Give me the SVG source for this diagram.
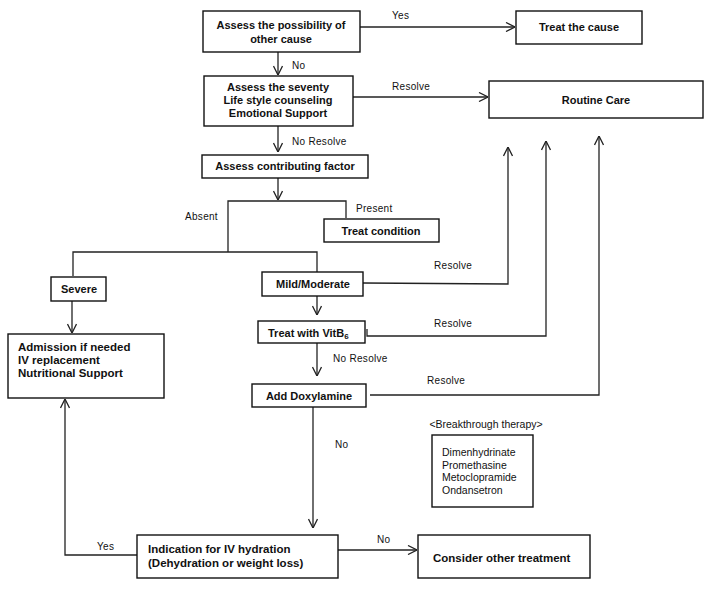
<svg xmlns="http://www.w3.org/2000/svg" width="714" height="589" viewBox="0 0 714 589">
<style>
.box{fill:#fff;stroke:#111;stroke-width:1.4}
.c{fill:none;stroke:#222;stroke-width:1.3}
.t{font-family:"Liberation Sans",Arial,sans-serif;font-size:11px;font-weight:bold;fill:#111}
.tm{font-family:"Liberation Sans",Arial,sans-serif;font-size:11.5px;font-weight:bold;fill:#111}
.l{font-family:"Liberation Sans",Arial,sans-serif;font-size:10px;fill:#111;letter-spacing:0.3px}
.d{font-family:"Liberation Sans",Arial,sans-serif;font-size:10.5px;fill:#111}
.m{text-anchor:middle}
</style>
<defs>
<marker id="arr" viewBox="0 0 10 10" refX="10" refY="5" markerWidth="10" markerHeight="10" markerUnits="userSpaceOnUse" orient="auto">
<polyline points="1,0.5 10,5 1,9.5" fill="none" stroke="#222" stroke-width="1.3"/>
</marker>
</defs>
<rect width="714" height="589" fill="#fff"/>
<g id="connectors">
<line class="c" x1="360" y1="27" x2="515" y2="27" marker-end="url(#arr)"/>
<line class="c" x1="278" y1="52" x2="278" y2="75" marker-end="url(#arr)"/>
<line class="c" x1="353" y1="97" x2="488" y2="97" marker-end="url(#arr)"/>
<line class="c" x1="278" y1="126" x2="278" y2="152" marker-end="url(#arr)"/>
<line class="c" x1="278" y1="178" x2="278" y2="200" marker-end="url(#arr)"/>
<polyline class="c" points="228,252 228,201 346,201 346,218"/>
<polyline class="c" points="73,276 73,252 317,252 317,272"/>
<line class="c" x1="72" y1="301" x2="72" y2="333" marker-end="url(#arr)"/>
<polyline class="c" points="363,283 508,284 508,147" marker-end="url(#arr)"/>
<line class="c" x1="317" y1="296" x2="317" y2="315" marker-end="url(#arr)"/>
<polyline class="c" points="367,329 367,336 546,336 546,141" marker-end="url(#arr)"/>
<line class="c" x1="317" y1="343" x2="317" y2="376" marker-end="url(#arr)"/>
<polyline class="c" points="370,395 599,395 599,136" marker-end="url(#arr)"/>
<line class="c" x1="313" y1="407" x2="313" y2="528" marker-end="url(#arr)"/>
<polyline class="c" points="137,555 65,555 65,399" marker-end="url(#arr)"/>
<line class="c" x1="338" y1="550" x2="417" y2="550" marker-end="url(#arr)"/>
<text class="l" x="392" y="19">Yes</text>
<text class="l" x="292" y="69">No</text>
<text class="l" x="392" y="90">Resolve</text>
<text class="l" x="292" y="145">No Resolve</text>
<text class="l" x="185" y="220">Absent</text>
<text class="l" x="356" y="212">Present</text>
<text class="l" x="434" y="269">Resolve</text>
<text class="l" x="434" y="327">Resolve</text>
<text class="l" x="333" y="362">No Resolve</text>
<text class="l" x="427" y="384">Resolve</text>
<text class="l" x="335" y="448">No</text>
<text class="l" x="97" y="550">Yes</text>
<text class="l" x="377" y="543">No</text>
</g>
<g id="n-other-cause">
<rect class="box" x="203" y="11" width="157" height="41"/>
<text class="t m" x="281" y="29">Assess the possibility of</text>
<text class="t m" x="281" y="43">other cause</text>
</g>
<g id="n-treat-cause">
<rect class="box" x="516" y="11" width="126" height="33"/>
<text class="t m" x="579" y="31">Treat the cause</text>
</g>
<g id="n-severity">
<rect class="box" x="204" y="76" width="149" height="50"/>
<text class="t m" x="278" y="91">Assess the seventy</text>
<text class="t m" x="278" y="104">Life style counseling</text>
<text class="t m" x="278" y="117">Emotional Support</text>
</g>
<g id="n-routine">
<rect class="box" x="489" y="81" width="214" height="37"/>
<text class="t m" x="596" y="104">Routine Care</text>
</g>
<g id="n-contributing">
<rect class="box" x="202" y="155" width="166" height="23"/>
<text class="t m" x="285" y="170">Assess contributing factor</text>
</g>
<g id="n-treat-condition">
<rect class="box" x="324" y="219" width="115" height="23"/>
<text class="t m" x="381" y="235">Treat condition</text>
</g>
<g id="n-severe">
<rect class="box" x="51" y="277" width="55" height="24"/>
<text class="t m" x="79" y="293">Severe</text>
</g>
<g id="n-mild">
<rect class="box" x="262" y="272" width="101" height="24"/>
<text class="t m" x="313" y="288">Mild/Moderate</text>
</g>
<g id="n-vitb6">
<rect class="box" x="258" y="321" width="107" height="22"/>
<text class="t" x="268" y="337">Treat with VitB<tspan font-size="8" dy="2">6</tspan></text>
</g>
<g id="n-doxylamine">
<rect class="box" x="252" y="384" width="114" height="23"/>
<text class="t m" x="309" y="400">Add Doxylamine</text>
</g>
<g id="n-admission">
<rect class="box" x="8" y="334" width="156" height="64"/>
<text class="tm" x="18" y="351">Admission if needed</text>
<text class="tm" x="18" y="364">IV replacement</text>
<text class="tm" x="18" y="377">Nutritional Support</text>
</g>
<g id="n-breakthrough">
<text class="d m" x="486" y="428">&lt;Breakthrough therapy&gt;</text>
<rect class="box" x="432" y="435" width="101" height="72"/>
<text class="d" x="442" y="456">Dimenhydrinate</text>
<text class="d" x="442" y="468.5">Promethasine</text>
<text class="d" x="442" y="481">Metoclopramide</text>
<text class="d" x="442" y="493.5">Ondansetron</text>
</g>
<g id="n-indication">
<rect class="box" x="137" y="535" width="201" height="43"/>
<text class="tm" x="148" y="553">Indication for IV hydration</text>
<text class="tm" x="148" y="567">(Dehydration or weight loss)</text>
</g>
<g id="n-consider">
<rect class="box" x="418" y="535" width="172" height="43"/>
<text class="tm" x="433" y="562">Consider other treatment</text>
</g>
</svg>
